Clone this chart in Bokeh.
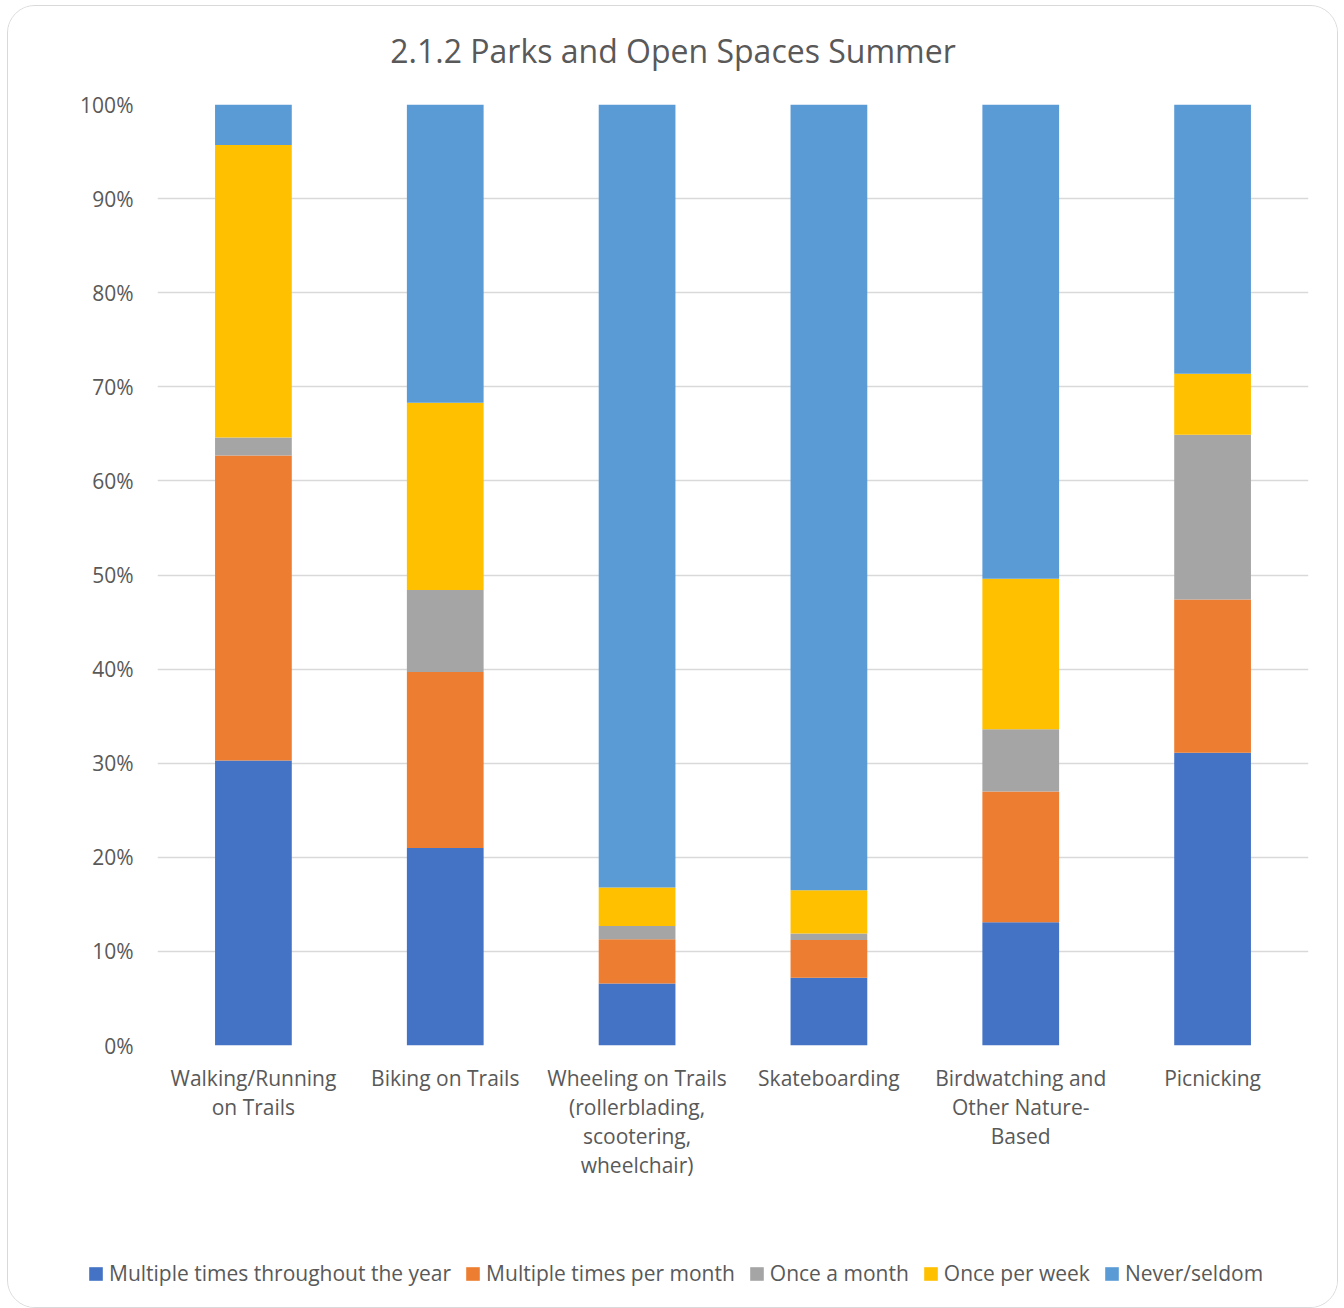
from bokeh.plotting import figure
from bokeh.layouts import column
from bokeh.models import (ColumnDataSource, FactorRange, Range1d, FixedTicker,
                          NumeralTickFormatter, Legend, LegendItem)
from bokeh.core.properties import value
from bokeh.embed import file_html
from bokeh.resources import INLINE

# ---- data ----
title_text = "2.1.2 Parks and Open Spaces Summer"
categories = [
    "Walking/Running on Trails",
    "Biking on Trails",
    "Wheeling on Trails (rollerblading, scootering, wheelchair)",
    "Skateboarding",
    "Birdwatching and Other Nature-Based",
    "Picnicking",
]
category_label_lines = [
    ["Walking/Running", "on Trails"],
    ["Biking on Trails"],
    ["Wheeling on Trails", "(rollerblading,", "scootering,", "wheelchair)"],
    ["Skateboarding"],
    ["Birdwatching and", "Other Nature-", "Based"],
    ["Picnicking"],
]
series_names = [
    "Multiple times throughout the year",
    "Multiple times per month",
    "Once a month",
    "Once per week",
    "Never/seldom",
]
multi_year = [30.3, 21.0, 6.6, 7.2, 13.1, 31.1]
multi_month = [32.4, 18.7, 4.7, 4.0, 13.9, 16.3]
once_month = [1.9, 8.7, 1.4, 0.7, 6.6, 17.5]
once_week = [31.1, 19.9, 4.1, 4.6, 16.0, 6.5]
never_seldom = [4.3, 31.7, 83.2, 83.5, 50.4, 28.6]
y_ticks = [0.0, 0.1, 0.2, 0.3, 0.4, 0.5, 0.6, 0.7, 0.8, 0.9, 1.0]

colors = ["#4472C4", "#ED7D31", "#A5A5A5", "#FFC000", "#5B9BD5"]
TEXT = "#595959"
FONT = "Open Sans"

# ---- layout constants (px) ----
W = 1329
FRAME_L = 149
FRAME_R = 29
PAD = 14
TOP_STRIP_H = 84
FRAME_H = 941
BOT_STRIP_H = 248
TITLE_Y = 44
LINE_GAP = 29
FIRST_LINE = 18.5

keys = ["s0", "s1", "s2", "s3", "s4"]
data = {"cat": categories}
for k, vals in zip(keys, [multi_year, multi_month, once_month, once_week, never_seldom]):
    data[k] = [v / 100.0 for v in vals]
source = ColumnDataSource(data)


def strip(height, x_range):
    f = figure(x_range=x_range, y_range=Range1d(height, 0),
               width=W, height=height, x_axis_type=None, y_axis_type=None,
               output_backend="svg", toolbar_location=None, min_border=0)
    f.frame_align = False
    f.outline_line_color = None
    f.background_fill_color = "white"
    f.border_fill_color = "white"
    f.grid.visible = False
    return f


# ---- title strip ----
t = strip(TOP_STRIP_H, Range1d(0, W))
t.text(x=[W / 2], y=[TITLE_Y], text=[title_text],
       text_font=value(FONT), text_font_size="32px", text_color=TEXT,
       text_align="center", text_baseline="middle")

# ---- main chart ----
p = figure(
    x_range=FactorRange(*categories, range_padding=0),
    y_range=Range1d(0, 1),
    width=W, height=FRAME_H + 2 * PAD,
    x_axis_type=None,
    output_backend="svg", toolbar_location=None,
    min_border_left=FRAME_L, min_border_right=FRAME_R,
    min_border_top=PAD, min_border_bottom=PAD,
)
p.outline_line_color = None
p.background_fill_color = "white"
p.border_fill_color = "white"

renderers = p.vbar_stack(keys, x="cat", width=0.4, source=source,
                         fill_color=colors, line_alpha=0)

p.ygrid.ticker = FixedTicker(ticks=y_ticks)
p.ygrid.grid_line_color = "#D9D9D9"
p.ygrid.grid_line_width = 1.5
p.ygrid.level = "underlay"

p.yaxis.ticker = FixedTicker(ticks=y_ticks)
p.yaxis.formatter = NumeralTickFormatter(format="0%")
p.yaxis.axis_line_color = None
p.yaxis.major_tick_line_color = None
p.yaxis.minor_tick_line_color = None
p.yaxis.major_tick_in = 0
p.yaxis.major_tick_out = 0
p.yaxis.major_label_standoff = 24
p.yaxis.major_label_text_font = FONT
p.yaxis.major_label_text_font_size = "21px"
p.yaxis.major_label_text_color = TEXT

# ---- bottom strip: category labels + legend ----
n = len(categories)
step = (W - FRAME_L - FRAME_R) / n
lx, ly, lt = [], [], []
for i, lines in enumerate(category_label_lines):
    for j, txt in enumerate(lines):
        lx.append(i + 0.5)
        ly.append(FIRST_LINE + j * LINE_GAP)
        lt.append(txt)
lab_src = ColumnDataSource(dict(x=lx, y=ly, text=lt))

b = strip(BOT_STRIP_H, Range1d(-FRAME_L / step, (W - FRAME_L) / step))
b.text(x="x", y="y", text="text", source=lab_src,
       text_font=value(FONT), text_font_size="21px", text_color=TEXT,
       text_align="center", text_baseline="middle")

# legend swatches: zero-height bars placed off the visible strip
swatch_src = ColumnDataSource(dict(x=[-100.0], top=[0.0], bottom=[0.0]))
dummies = [b.vbar(x="x", top="top", bottom="bottom", width=0.4, source=swatch_src,
                  fill_color=c, line_alpha=0) for c in colors]
items = [LegendItem(label=nm, renderers=[r]) for nm, r in zip(series_names, dummies)]
legend = Legend(items=items, orientation="horizontal", location=(79, 20),
                padding=0, margin=0, spacing=13, label_standoff=5,
                glyph_width=17, glyph_height=17,
                label_text_font=FONT, label_text_font_size="21px",
                label_text_color=TEXT, border_line_color=None,
                background_fill_alpha=0)
b.add_layout(legend)

layout = column(t, p, b, spacing=0)
layout.styles = {"border": "1px solid #d9d9d9", "border-radius": "28px",
                 "overflow": "hidden", "margin-left": "7px", "margin-top": "5px",
                 "background-color": "white"}

open("out.html", "w").write(file_html(layout, INLINE))
